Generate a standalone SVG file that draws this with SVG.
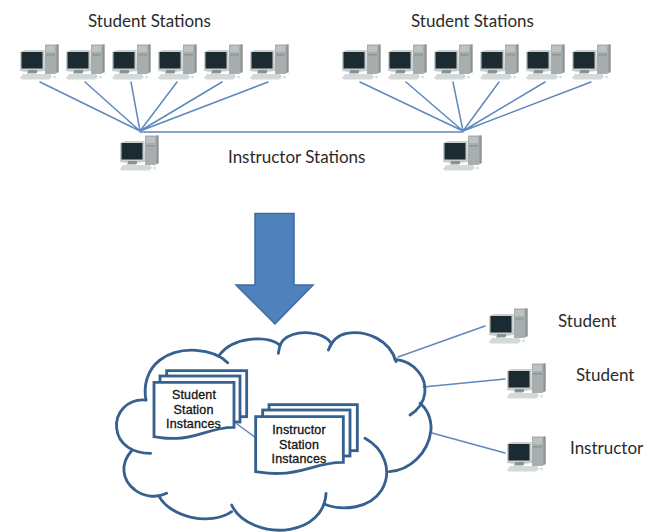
<svg xmlns="http://www.w3.org/2000/svg" width="647" height="532" viewBox="0 0 647 532">
<style>
.lbl{font-family:"Lato","Liberation Sans",sans-serif;font-size:17px;fill:#2b2b2b}
.inst{font-family:"Liberation Sans",Arial,sans-serif;font-size:12.5px;letter-spacing:.15px;fill:#111;stroke:#111;stroke-width:.3px;text-anchor:middle}
.conn{stroke:#5f88bd;stroke-width:1.5;fill:none;stroke-linecap:round}
.cl{fill:none;stroke:#35608f;stroke-width:8.5;stroke-linecap:round}
.pg{fill:#fff;stroke:#35608f;stroke-width:8.5}
</style>
<defs>
<filter id="soft" x="-10%" y="-10%" width="120%" height="120%"><feGaussianBlur stdDeviation="0.4"/></filter>
<g id="pc" filter="url(#soft)">
<path d="M0 8 L5 6 H24.500 L25 27 L16 28 V30 H7 V28 L0 27 Z" fill="#c8cdcd"/>
<rect x="1.500" y="8" width="21" height="16.500" fill="#1c2b33"/>
<rect x="8" y="26" width="9" height="3" fill="#8b9192"/>
<path d="M25 0.500 H38.500 V28 L35 30 H25 Z" fill="#a8adad"/>
<rect x="26" y="2" width="9" height="6" fill="#bcc1c1"/>
<rect x="26" y="10" width="9" height="1.500" fill="#8f9596"/>
<rect x="36.500" y="0.500" width="2" height="28" fill="#8c9293"/>
<path d="M3 30 H30 L32 33 L29 35.500 H2 L0 34 Z" fill="#d3d8d9"/>
<rect x="33" y="31.500" width="3" height="3" rx="1.500" fill="#dcdfdf"/>
</g>
</defs>
<rect width="647" height="532" fill="#fff"/>
<g id="connectors">
<path class="conn" d="M40 82 L140 131 M85 82 L140 131 M131 82 L140 131 M177 82 L140 131 M222 82 L140 131 M268 82 L140 131"/>
<path class="conn" d="M360 82 L463 131 M406 82 L463 131 M453 82 L463 131 M499 82 L463 131 M545 82 L463 131 M591 82 L463 131"/>
<path class="conn" d="M140 132 H463"/>
<path class="conn" d="M398 357 L485 326 M423 387 L505 379 M432 433 L505 453"/>
<path class="conn" d="M237 424 L256 438"/>
</g>
<g id="student-stations-a">
<use href="#pc" x="20" y="44"/><use href="#pc" x="66" y="44"/><use href="#pc" x="112" y="44"/><use href="#pc" x="158" y="44"/><use href="#pc" x="204" y="44"/><use href="#pc" x="250" y="44"/>
<text class="lbl" x="88" y="27">Student Stations</text>
</g>
<g id="student-stations-b">
<use href="#pc" x="342" y="44"/><use href="#pc" x="388" y="44"/><use href="#pc" x="434" y="44"/><use href="#pc" x="480" y="44"/><use href="#pc" x="526" y="44"/><use href="#pc" x="572" y="44"/>
<text class="lbl" x="411" y="27">Student Stations</text>
</g>
<g id="instructor-a"><use href="#pc" x="120" y="135"/></g>
<g id="instructor-b"><use href="#pc" x="443" y="135"/></g>
<g id="instructor-label"><text class="lbl" x="228" y="163">Instructor Stations</text></g>
<g id="arrow"><path d="M255 213.500 H294 V285 H313 L275 324 L236 285 H255 Z" fill="#4f81bd" stroke="#3f6b9f" stroke-width="1.500"/></g>
<g id="cloud" transform="translate(100 320) scale(.33333)">
<path class="cl" d="M383 128 C340 85 240 75 180 120 C140 150 130 200 138 240"/>
<path class="cl" d="M138 240 C80 235 45 280 50 325 C55 375 100 400 152 400"/>
<path class="cl" d="M95 392 C60 430 65 480 105 510 C130 530 170 535 200 520"/>
<path class="cl" d="M178 530 C210 590 330 620 395 575"/>
<path class="cl" d="M395 555 C420 610 500 640 570 628 C630 618 675 580 678 520"/>
<path class="cl" d="M672 552 C730 575 810 565 845 510 C880 450 850 385 795 355"/>
<path class="cl" d="M868 455 C930 450 985 400 993 330 C995 295 980 265 960 250"/>
<path class="cl" d="M930 285 C985 250 985 190 955 155 C935 130 910 120 885 118"/>
<path class="cl" d="M888 125 C870 60 800 30 740 40 C710 45 695 65 685 90"/>
<path class="cl" d="M695 70 C670 35 590 25 550 60 C540 70 537 85 535 100"/>
<path class="cl" d="M540 75 C500 45 400 50 358 105"/>
</g>
<g id="student-instances">
<g transform="translate(100 320) scale(.33333)">
<rect class="pg" x="200" y="152" width="240" height="138"/>
<rect class="pg" x="180" y="168" width="240" height="138"/>
<path class="pg" d="M162 187 H402 V322 C340 320 290 355 230 355 C200 357 180 352 162 350 Z"/>
</g>
<text class="inst" x="194" y="399">Student</text>
<text class="inst" x="193.500" y="413.500">Station</text>
<text class="inst" x="193.500" y="428">Instances</text>
</g>
<g id="instructor-instances">
<g transform="translate(100 320) scale(.33333)">
<rect class="pg" x="507" y="254" width="265" height="138"/>
<rect class="pg" x="488" y="270" width="262" height="138"/>
<path class="pg" d="M467 290 H730 V427 C660 425 610 460 540 460 C510 462 490 458 467 455 Z"/>
</g>
<text class="inst" x="299" y="434">Instructor</text>
<text class="inst" x="299" y="448.500">Station</text>
<text class="inst" x="299" y="463">Instances</text>
</g>
<g id="client-1"><use href="#pc" x="489" y="308"/><text class="lbl" x="558" y="327">Student</text></g>
<g id="client-2"><use href="#pc" x="507" y="363"/><text class="lbl" x="576" y="381">Student</text></g>
<g id="client-3"><use href="#pc" x="507" y="436"/><text class="lbl" x="570" y="454">Instructor</text></g>
</svg>
